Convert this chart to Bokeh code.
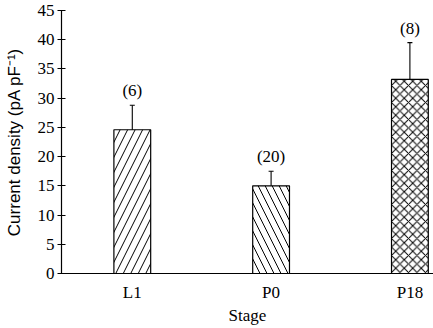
from bokeh.plotting import figure
from bokeh.models import ColumnDataSource, Range1d, Whisker, FixedTicker
from bokeh.core.properties import value
from bokeh.embed import file_html
from bokeh.resources import INLINE

stages = ["L1", "P0", "P18"]
means = [24.6, 15.0, 33.2]
errors = [4.2, 2.5, 6.3]
n_labels = ["(6)", "(20)", "(8)"]
hatches = ["/", "\\", "x"]
hatch_scales = [15, 14, 8.5]
y_ticks = [0, 5, 10, 15, 20, 25, 30, 35, 40, 45]

SERIF = "Liberation Serif"
SANS = "Liberation Sans"

xpos = list(range(len(stages)))
src = ColumnDataSource(dict(
    x=xpos,
    mean=means,
    upper=[m + e for m, e in zip(means, errors)],
    lower=[m - e for m, e in zip(means, errors)],
    label=n_labels,
    hatch=hatches,
    hscale=hatch_scales,
))

p = figure(
    width=433, height=328,
    x_range=Range1d(-0.51, 2.17),
    y_range=Range1d(0, 45),
    output_backend="svg", toolbar_location=None,
    min_border_left=61, min_border_right=0,
    min_border_top=10, min_border_bottom=55,
)

p.vbar(x="x", top="mean", width=0.265, source=src,
       fill_color="white", line_color="black", line_width=1.2,
       hatch_pattern="hatch", hatch_scale="hscale",
       hatch_color="black", hatch_weight=1.0)

w = Whisker(base="x", upper="upper", lower="lower", source=src,
            line_color="black", line_width=1.1)
w.upper_head.size = 5
w.upper_head.line_width = 1.1
w.lower_head.size = 3
w.lower_head.line_width = 1.1
p.add_layout(w)

p.text(x="x", y="upper", text="label", source=src,
       text_align="center", text_baseline="bottom", y_offset=-5,
       text_font=value(SERIF), text_font_size="17px", text_color="black")

p.grid.visible = False
p.outline_line_color = None

p.yaxis.ticker = FixedTicker(ticks=y_ticks)
p.yaxis.axis_label = "Current density (pA pF\u207b\u00b9)"
p.yaxis.major_tick_in = 4
p.yaxis.major_tick_out = 4
p.yaxis.major_tick_line_color = "black"
p.yaxis.minor_tick_line_color = None
p.yaxis.major_label_standoff = 3
p.yaxis.major_label_text_font_size = "17px"
p.yaxis.axis_label_text_font = SANS
p.yaxis.axis_label_text_font_size = "17px"
p.yaxis.axis_label_standoff = 11

p.xaxis.ticker = FixedTicker(ticks=xpos)
p.xaxis.major_label_overrides = {i: s for i, s in zip(xpos, stages)}
p.xaxis.axis_label = "Stage"
p.xaxis.major_tick_line_color = None
p.xaxis.major_tick_out = 0
p.xaxis.major_tick_in = 0
p.xaxis.minor_tick_line_color = None
p.xaxis.minor_tick_out = 0
p.xaxis.major_label_standoff = 9
p.xaxis.major_label_text_font_size = "17px"
p.xaxis.axis_label_text_font = SERIF
p.xaxis.axis_label_text_font_size = "17px"
p.xaxis.axis_label_standoff = 1

for ax in (p.xaxis, p.yaxis):
    ax.axis_line_color = "black"
    ax.axis_line_width = 1.2
    ax.major_label_text_font = SERIF
    ax.major_label_text_color = "black"
    ax.axis_label_text_font_style = "normal"
    ax.axis_label_text_color = "black"

open("out.html", "w").write(file_html(p, INLINE))
